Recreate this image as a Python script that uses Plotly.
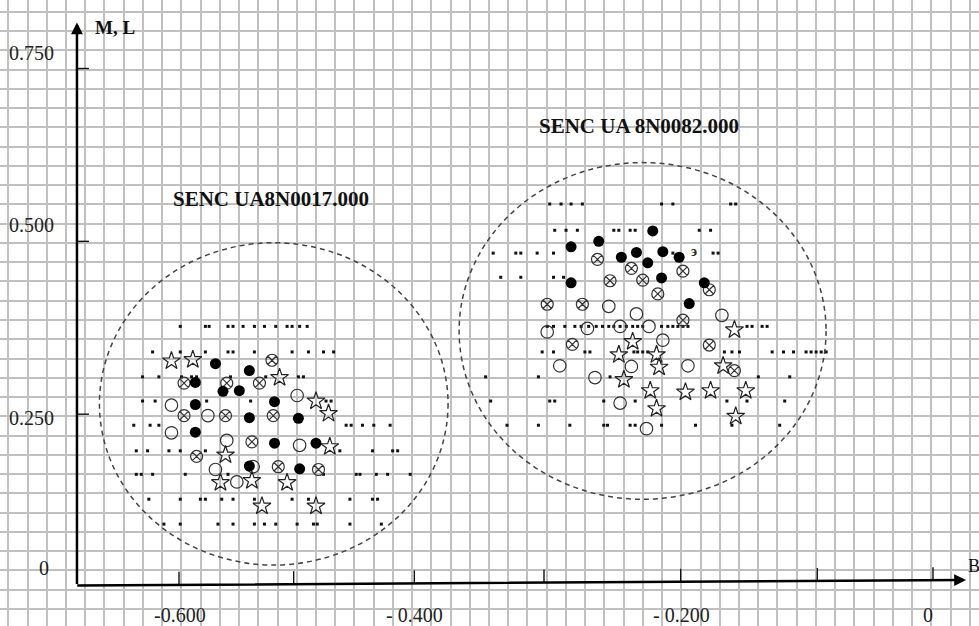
import plotly.graph_objects as go

# ---------------- data (B on x, M/L on y) ----------------
# small dots, left group: one M/L level per row, B values in that row
dotsL_ml = [0.377, 0.340, 0.304, 0.269, 0.234, 0.197, 0.163, 0.127, 0.091]
dotsL_b = [
    [-0.599, -0.579, -0.576, -0.561, -0.557, -0.549, -0.540, -0.532, -0.523, -0.514, -0.510, -0.504, -0.498],
    [-0.621, -0.599, -0.579, -0.561, -0.557, -0.540, -0.510, -0.497, -0.485, -0.477],
    [-0.629, -0.616, -0.598, -0.590, -0.586, -0.559, -0.531, -0.505, -0.501],
    [-0.629, -0.619, -0.578, -0.543, -0.483, -0.479],
    [-0.636, -0.623, -0.616, -0.467, -0.463, -0.454, -0.445, -0.432],
    [-0.634, -0.625, -0.608, -0.599, -0.579, -0.472, -0.446, -0.430, -0.426],
    [-0.634, -0.630, -0.621, -0.595, -0.561, -0.485, -0.459, -0.456, -0.443, -0.434, -0.416],
    [-0.624, -0.599, -0.583, -0.579, -0.566, -0.557, -0.540, -0.510, -0.497, -0.464, -0.446, -0.442],
    [-0.612, -0.599, -0.569, -0.557, -0.540, -0.532, -0.523, -0.506, -0.493, -0.490, -0.464, -0.439],
]
# small dots, right group
dotsR_ml = [0.554, 0.516, 0.483, 0.448, 0.377, 0.340, 0.304, 0.269, 0.234]
dotsR_b = [
    [-0.305, -0.296, -0.288, -0.279, -0.216, -0.207, -0.161, -0.157],
    [-0.301, -0.292, -0.283, -0.254, -0.250, -0.241, -0.237, -0.186, -0.177],
    [-0.350, -0.332, -0.328, -0.315, -0.302, -0.207, -0.175, -0.171],
    [-0.344, -0.328, -0.302, -0.294],
    [-0.307, -0.302, -0.293, -0.285, -0.280, -0.274, -0.268, -0.263, -0.258, -0.254, -0.249, -0.244,
     -0.239, -0.235, -0.231, -0.216, -0.211, -0.207, -0.203, -0.199, -0.195, -0.148, -0.144, -0.136, -0.132],
    [-0.311, -0.302, -0.277, -0.273, -0.238, -0.235, -0.231, -0.227, -0.166, -0.160, -0.154, -0.128,
     -0.119, -0.111, -0.101, -0.097, -0.093, -0.089, -0.085],
    [-0.356, -0.314, -0.257, -0.139, -0.114],
    [-0.352, -0.305, -0.301, -0.262, -0.237, -0.164, -0.148, -0.118],
    [-0.339, -0.314, -0.289, -0.262, -0.259, -0.241, -0.237, -0.216, -0.189, -0.160, -0.122],
]

filled_b = [-0.571, -0.544, -0.587, -0.565, -0.552, -0.587, -0.524, -0.544, -0.505, -0.587, -0.524, -0.491, -0.544, -0.504,
            -0.223, -0.266, -0.288, -0.248, -0.236, -0.215, -0.202, -0.227, -0.216, -0.288, -0.182, -0.194]
filled_ml = [0.323, 0.313, 0.296, 0.283, 0.284, 0.264, 0.268, 0.245, 0.244, 0.224, 0.208, 0.208, 0.175, 0.171,
             0.515, 0.500, 0.492, 0.477, 0.484, 0.485, 0.477, 0.469, 0.447, 0.440, 0.440, 0.410]

crossed_b = [-0.526, -0.596, -0.562, -0.536, -0.596, -0.563, -0.525, -0.542, -0.586, -0.521, -0.489,
             -0.267, -0.240, -0.199, -0.257, -0.231, -0.219, -0.178, -0.307, -0.279, -0.199, -0.287, -0.178, -0.158]
crossed_ml = [0.328, 0.295, 0.295, 0.295, 0.248, 0.248, 0.248, 0.210, 0.189, 0.174, 0.170,
              0.474, 0.461, 0.457, 0.443, 0.444, 0.424, 0.430, 0.409, 0.409, 0.386, 0.351, 0.350, 0.313]

open_b = [-0.606, -0.577, -0.506, -0.606, -0.562, -0.504, -0.571, -0.541, -0.554,
          -0.258, -0.236, -0.168, -0.307, -0.275, -0.249, -0.226, -0.215, -0.297, -0.240, -0.195, -0.269, -0.249, -0.228]
open_ml = [0.263, 0.248, 0.277, 0.223, 0.212, 0.205, 0.170, 0.174, 0.152,
           0.406, 0.395, 0.393, 0.369, 0.374, 0.377, 0.377, 0.357, 0.320, 0.319, 0.320, 0.303, 0.266, 0.229]

star_b = [-0.606, -0.589, -0.520, -0.491, -0.481, -0.480, -0.563, -0.567, -0.542, -0.514, -0.534, -0.491,
          -0.158, -0.239, -0.250, -0.220, -0.218, -0.167, -0.246, -0.225, -0.197, -0.177, -0.149, -0.220, -0.157]
star_ml = [0.327, 0.329, 0.303, 0.269, 0.251, 0.203, 0.191, 0.151, 0.154, 0.151, 0.117, 0.117,
           0.372, 0.355, 0.336, 0.336, 0.318, 0.320, 0.300, 0.284, 0.282, 0.284, 0.284, 0.258, 0.247]

# cluster boundaries (dashed ellipses)
cluster_names = ["SENC UA8N0017.000", "SENC UA 8N0082.000"]
cluster_b_center = [-0.5246, -0.2311]
cluster_ml_center = [0.2649, 0.3704]
cluster_b_radius = [0.1387, 0.1460]
cluster_ml_radius = [0.2331, 0.2435]
cluster_label_b = [-0.5268, -0.2343]
cluster_label_ml = [0.5612, 0.6668]

# axis ticks and labels
xtick_vals = [-0.6, -0.5, -0.4, -0.3, -0.2, -0.1, 0.0]
xlabel_vals = [-0.6, -0.4, -0.2, 0.0]
xlabel_text = ["-0.600", "- 0.400", "- 0.200", "0"]
ytick_vals = [0.25, 0.5, 0.75]
ylabel_vals = [0.0, 0.25, 0.5, 0.75]
ylabel_text = ["0", "0.250", "0.500", "0.750"]

# ---------------- layout geometry ----------------
PX_B = 1256.67      # pixels per unit of B
PX_ML = 691.3       # pixels per unit of M/L
X_RANGE = [-0.74244, 0.036605]
Y_RANGE = [-0.0564, 0.8491]
GRID_B0, GRID_DB = -0.73584, 0.015302
GRID_ML0, GRID_DML = 0.83177, 0.027846

AX_B = -0.6812                 # position of vertical axis
AX_ML_LEFT, AX_ML_RIGHT = 0.0022, 0.0101   # horizontal axis (slightly tilted)
AX_B_TIP, AX_ML_TIP = 0.0263, 0.8166
xtick_shift_px = [0, -11, -16, -12, -1, 10, 0]
xlabel_shift_px = [1, -16, 0, -5]
ylabel_shift_px = [19, -4, 16, 16]

SERIF = "Liberation Serif, Times New Roman, serif"
INK = "#222222"

fig = go.Figure()

# small dots
dx, dy = [], []
for ml, row in zip(dotsL_ml + dotsR_ml, dotsL_b + dotsR_b):
    dx += row
    dy += [ml] * len(row)
fig.add_trace(go.Scatter(x=dx, y=dy, mode="markers",
                         marker=dict(symbol="square", size=3, color="#111111", line=dict(width=0))))

fig.add_trace(go.Scatter(x=open_b, y=open_ml, mode="markers",
                         marker=dict(symbol="circle-open", size=12.5, color="#333333", line=dict(width=1.2))))
fig.add_trace(go.Scatter(x=crossed_b, y=crossed_ml, mode="markers",
                         marker=dict(symbol="circle-x-open", size=12, color="#333333", line=dict(width=1.2))))
fig.add_trace(go.Scatter(x=star_b, y=star_ml, mode="markers",
                         marker=dict(symbol="star-open", size=13.5, color="#222222", line=dict(width=1.2))))
fig.add_trace(go.Scatter(x=filled_b, y=filled_ml, mode="markers",
                         marker=dict(symbol="circle", size=11, color="#000000", line=dict(width=0))))

shapes = []
annotations = []

# dashed cluster ellipses + titles
for i in range(2):
    shapes.append(dict(type="circle", xref="x", yref="y",
                       x0=cluster_b_center[i] - cluster_b_radius[i], x1=cluster_b_center[i] + cluster_b_radius[i],
                       y0=cluster_ml_center[i] - cluster_ml_radius[i], y1=cluster_ml_center[i] + cluster_ml_radius[i],
                       line=dict(color="#444444", width=1.5, dash="5px,4px")))
    annotations.append(dict(x=cluster_label_b[i], y=cluster_label_ml[i], xref="x", yref="y",
                            text="<b>%s</b>" % cluster_names[i], showarrow=False,
                            font=dict(family=SERIF, size=21, color="#111111")))

# axes with arrow heads
annotations.append(dict(x=AX_B, y=AX_ML_TIP, ax=AX_B, ay=AX_ML_LEFT, xref="x", yref="y", axref="x", ayref="y",
                        text="", showarrow=True, arrowhead=2, arrowsize=0.95, arrowwidth=2.5, arrowcolor="#000000",
                        standoff=0, startstandoff=0))
annotations.append(dict(x=AX_B_TIP, y=AX_ML_RIGHT, ax=AX_B - 0.001, ay=AX_ML_LEFT, xref="x", yref="y",
                        axref="x", ayref="y", text="", showarrow=True, arrowhead=2, arrowsize=0.95,
                        arrowwidth=2.5, arrowcolor="#000000", standoff=0, startstandoff=0))

# x ticks (short vertical strokes above the axis)
for v, s in zip(xtick_vals, xtick_shift_px):
    xb = v + s / PX_B
    base = AX_ML_LEFT + (xb - AX_B) / (AX_B_TIP - AX_B) * (AX_ML_RIGHT - AX_ML_LEFT)
    shapes.append(dict(type="line", xref="x", yref="y", xsizemode="pixel", xanchor=v, x0=s, x1=s,
                       y0=base, y1=base + 13 / PX_ML, line=dict(color="#111111", width=1.4)))
# y ticks (short horizontal strokes right of the axis)
for v in ytick_vals:
    shapes.append(dict(type="line", xref="x", yref="y", x0=AX_B, x1=AX_B + 12 / PX_B, y0=v, y1=v,
                       line=dict(color="#111111", width=1.4)))

# tick labels
for v, t, s in zip(xlabel_vals, xlabel_text, xlabel_shift_px):
    annotations.append(dict(x=v, y=-28 / PX_ML, xref="x", yref="y", text=t, showarrow=False, xshift=s,
                            xanchor="center", yanchor="middle", font=dict(family=SERIF, size=20, color=INK)))
for v, t, s in zip(ylabel_vals, ylabel_text, ylabel_shift_px):
    xpos = X_RANGE[0] + (37 if t == "0" else 7) / PX_B
    annotations.append(dict(x=xpos, y=v, xref="x", yref="y", text=t, showarrow=False, yshift=s,
                            xanchor="left", yanchor="middle", font=dict(family=SERIF, size=20, color=INK)))

# axis names and the stray mark
annotations.append(dict(x=X_RANGE[0] + 93 / PX_B, y=AX_ML_TIP - 5 / PX_ML, xref="x", yref="y", text="<b>M, L</b>",
                        showarrow=False, xanchor="left", yanchor="middle",
                        font=dict(family=SERIF, size=19, color="#111111")))
annotations.append(dict(x=X_RANGE[0] + 966 / PX_B, y=AX_ML_RIGHT + 14 / PX_ML, xref="x", yref="y", text="B",
                        showarrow=False, xanchor="left", yanchor="middle",
                        font=dict(family=SERIF, size=18, color="#111111")))
annotations.append(dict(x=-0.190, y=0.486, xref="x", yref="y", text="<b>э</b>", showarrow=False,
                        font=dict(family=SERIF, size=14, color="#2a2a2a")))

grid = dict(showgrid=True, gridcolor="#c0c0c0", gridwidth=1.6, zeroline=False, showline=False,
            showticklabels=False, ticks="", fixedrange=True)

fig.update_layout(
    width=979, height=626, autosize=False,
    margin=dict(l=0, r=0, t=0, b=0, pad=0),
    paper_bgcolor="white", plot_bgcolor="white",
    showlegend=False,
    xaxis=dict(range=X_RANGE, tick0=GRID_B0, dtick=GRID_DB, **grid),
    yaxis=dict(range=Y_RANGE, tick0=GRID_ML0, dtick=GRID_DML, **grid),
    shapes=shapes,
    annotations=annotations,
)

fig.write_html("out.html",
               post_script="document.body.style.margin='0';document.body.style.padding='0';"
                           "document.body.style.overflow='hidden';",
               config={"displayModeBar": False})
